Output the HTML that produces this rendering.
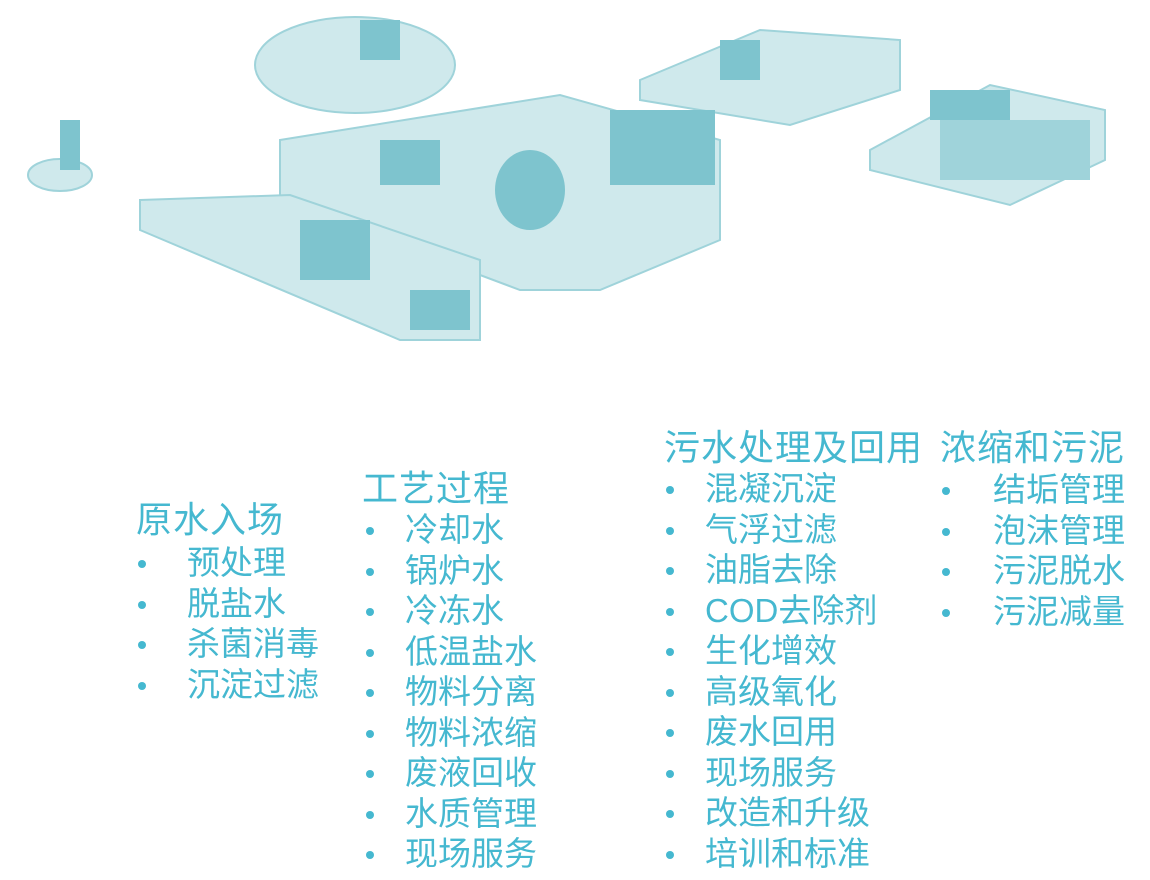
<!DOCTYPE html>
<html><head><meta charset="utf-8"><style>
body{margin:0;width:1150px;height:880px;background:#fff;overflow:hidden;position:relative;font-family:"Liberation Sans","Noto Sans CJK SC",sans-serif;color:#45b8d0}
.h{position:absolute;font-size:36px;line-height:40px;white-space:nowrap;letter-spacing:1px}
.i{position:absolute;font-size:33px;line-height:40.5px;white-space:nowrap}
.i div{position:relative}
.i div::before{content:"";position:absolute;left:1px;top:17px;width:8px;height:8px;border-radius:50%;background:#45b8d0}
</style></head><body>
<svg width="1150" height="360" style="position:absolute;left:0;top:0">
<g fill="#cfe9ec" stroke="#9fd3da" stroke-width="2">
<ellipse cx="355" cy="65" rx="100" ry="48"/>
<polygon points="280,140 560,95 720,140 720,240 600,290 520,290 280,200"/>
<polygon points="640,80 760,30 900,40 900,90 790,125 640,100"/>
<polygon points="870,150 990,85 1105,110 1105,160 1010,205 870,170"/>
<polygon points="140,200 290,195 480,260 480,340 400,340 140,230"/>
<ellipse cx="60" cy="175" rx="32" ry="16"/>
</g>
<g fill="#7ec4ce">
<rect x="60" y="120" width="20" height="50"/>
<rect x="380" y="140" width="60" height="45"/>
<ellipse cx="530" cy="190" rx="35" ry="40"/>
<rect x="610" y="110" width="105" height="75"/>
<rect x="300" y="220" width="70" height="60"/>
<rect x="720" y="40" width="40" height="40"/>
<rect x="930" y="90" width="80" height="30"/>
<rect x="940" y="120" width="150" height="60" fill="#9fd3da"/>
<rect x="410" y="290" width="60" height="40"/>
<rect x="360" y="20" width="40" height="40"/>
</g>
</svg>
<div class="h" style="left:136px;top:500px">原水入场</div>
<div class="i" style="left:137px;top:543px"><div style="padding-left:50px">预处理</div><div style="padding-left:50px">脱盐水</div><div style="padding-left:50px">杀菌消毒</div><div style="padding-left:50px">沉淀过滤</div></div>
<div class="h" style="left:362px;top:469px">工艺过程</div>
<div class="i" style="left:365px;top:510px"><div style="padding-left:40px">冷却水</div><div style="padding-left:40px">锅炉水</div><div style="padding-left:40px">冷冻水</div><div style="padding-left:40px">低温盐水</div><div style="padding-left:40px">物料分离</div><div style="padding-left:40px">物料浓缩</div><div style="padding-left:40px">废液回收</div><div style="padding-left:40px">水质管理</div><div style="padding-left:40px">现场服务</div></div>
<div class="h" style="left:664px;top:428px">污水处理及回用</div>
<div class="i" style="left:665px;top:469px"><div style="padding-left:40px">混凝沉淀</div><div style="padding-left:40px">气浮过滤</div><div style="padding-left:40px">油脂去除</div><div style="padding-left:40px">COD去除剂</div><div style="padding-left:40px">生化增效</div><div style="padding-left:40px">高级氧化</div><div style="padding-left:40px">废水回用</div><div style="padding-left:40px">现场服务</div><div style="padding-left:40px">改造和升级</div><div style="padding-left:40px">培训和标准</div></div>
<div class="h" style="left:940px;top:428px">浓缩和污泥</div>
<div class="i" style="left:941px;top:470px"><div style="padding-left:52px">结垢管理</div><div style="padding-left:52px">泡沫管理</div><div style="padding-left:52px">污泥脱水</div><div style="padding-left:52px">污泥减量</div></div>
</body></html>
